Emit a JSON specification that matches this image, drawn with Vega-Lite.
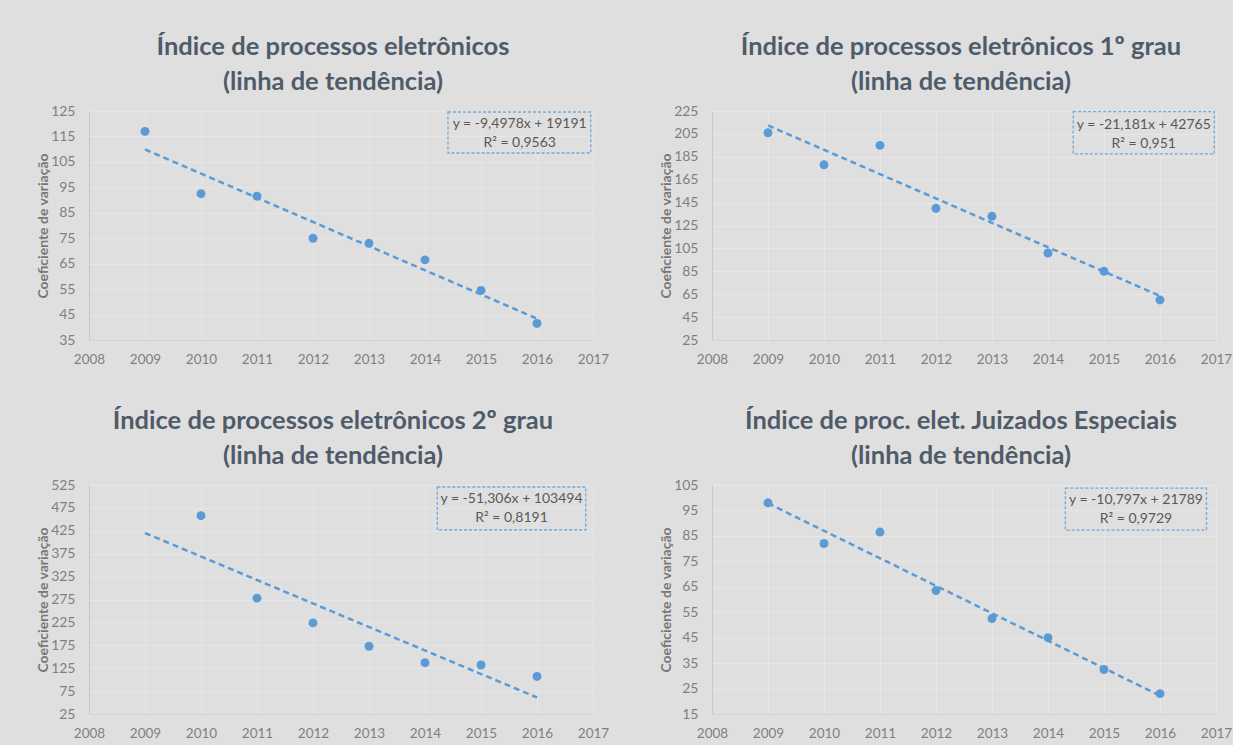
{
  "$schema": "https://vega.github.io/schema/vega-lite/v6.json",
  "background": "#dfdfdf",
  "padding": {"left": 36, "top": 34, "right": 5, "bottom": 5},
  "config": {
    "view": {"stroke": null},
    "font": "Lato",
    "title": {"font": "Lato", "fontSize": 25.5, "fontWeight": "bold", "color": "#4f5b69", "lineHeight": 35, "anchor": "middle", "frame": "group", "offset": 9},
    "axis": {"labelFont": "Lato", "labelFontSize": 14, "labelColor": "#7f7f7f", "ticks": false, "labelOverlap": false, "labelFlush": false, "tickCount": 30, "domainColor": "#c8c8c8", "gridColor": "#e7e7e7", "grid": true, "titleFont": "Lato", "titleFontSize": 14, "titleFontWeight": "bold", "titleColor": "#777777"},
    "axisY": {"labelPadding": 14, "titlePadding": 0},
    "axisX": {"domainColor": "#d4d4d4", "labelPadding": 12, "labelFontSize": 13.5},
    "concat": {"spacing": {"row": 42, "column": 50}}
  },
  "datasets": {
    "p1": [{"year": 2009, "value": 117}, {"year": 2010, "value": 92.5}, {"year": 2011, "value": 91.5}, {"year": 2012, "value": 75}, {"year": 2013, "value": 73}, {"year": 2014, "value": 66.5}, {"year": 2015, "value": 54.5}, {"year": 2016, "value": 41.5}],
    "t1": [{"year": 2009, "value": 109.9}, {"year": 2016, "value": 43.4}],
    "e1": [{"eq": "y = -9,4978x + 19191\nR² = 0,9563"}],
    "p2": [{"year": 2009, "value": 206}, {"year": 2010, "value": 178}, {"year": 2011, "value": 195}, {"year": 2012, "value": 140}, {"year": 2013, "value": 133}, {"year": 2014, "value": 101}, {"year": 2015, "value": 85}, {"year": 2016, "value": 60}],
    "t2": [{"year": 2009, "value": 212.4}, {"year": 2016, "value": 63.5}],
    "e2": [{"eq": "y = -21,181x + 42765\nR² = 0,951"}],
    "p3": [{"year": 2010, "value": 458}, {"year": 2011, "value": 278}, {"year": 2012, "value": 224}, {"year": 2013, "value": 173}, {"year": 2014, "value": 137}, {"year": 2015, "value": 132}, {"year": 2016, "value": 107}],
    "t3": [{"year": 2009, "value": 420.2}, {"year": 2016, "value": 61.1}],
    "e3": [{"eq": "y = -51,306x + 103494\nR² = 0,8191"}],
    "p4": [{"year": 2009, "value": 98}, {"year": 2010, "value": 82}, {"year": 2011, "value": 86.5}, {"year": 2012, "value": 63.5}, {"year": 2013, "value": 52.5}, {"year": 2014, "value": 45}, {"year": 2015, "value": 32.5}, {"year": 2016, "value": 23}],
    "t4": [{"year": 2009, "value": 97.8}, {"year": 2016, "value": 22.2}],
    "e4": [{"eq": "y = -10,797x + 21789\nR² = 0,9729"}]
  },
  "columns": 2,
  "concat": [
    {
      "width": 504, "height": 229,
      "title": {"text": ["Índice de processos eletrônicos", "(linha de tendência)"], "dx": -8},
      "layer": [
        {"data": {"name": "t1"}, "mark": {"type": "line", "strokeDash": [6, 4], "strokeWidth": 2.5, "color": "#5b9bd5"},
         "encoding": {
           "x": {"field": "year", "type": "quantitative", "scale": {"domain": [2008, 2017], "nice": false, "zero": false}, "axis": {"values": [2008, 2009, 2010, 2011, 2012, 2013, 2014, 2015, 2016, 2017], "format": "d", "title": null}},
           "y": {"field": "value", "type": "quantitative", "scale": {"domain": [35, 125], "nice": false, "zero": false}, "axis": {"values": [35, 45, 55, 65, 75, 85, 95, 105, 115, 125], "title": "Coeficiente de variação"}}
         }},
        {"data": {"name": "p1"}, "mark": {"type": "circle", "size": 80, "opacity": 1, "color": "#5b9bd5"},
         "encoding": {"x": {"field": "year", "type": "quantitative"}, "y": {"field": "value", "type": "quantitative"}}},
        {"data": {"name": "e1"}, "mark": {"type": "rect", "filled": false, "stroke": "#6fa8dc", "strokeDash": [3, 2], "strokeWidth": 1.3},
         "encoding": {"x": {"datum": 2014.41}, "x2": {"datum": 2016.96}, "y": {"datum": 124.6}, "y2": {"datum": 108.5}}},
        {"data": {"name": "e1"}, "mark": {"type": "text", "font": "Lato", "fontSize": 14, "color": "#595959", "lineBreak": "\n", "lineHeight": 19, "align": "center", "baseline": "middle"},
         "encoding": {"x": {"datum": 2015.69}, "y": {"datum": 120}, "text": {"field": "eq"}}}
      ]
    },
    {
      "width": 504, "height": 229,
      "title": {"text": ["Índice de processos eletrônicos 1º grau", "(linha de tendência)"], "dx": -3},
      "layer": [
        {"data": {"name": "t2"}, "mark": {"type": "line", "strokeDash": [6, 4], "strokeWidth": 2.5, "color": "#5b9bd5"},
         "encoding": {
           "x": {"field": "year", "type": "quantitative", "scale": {"domain": [2008, 2017], "nice": false, "zero": false}, "axis": {"values": [2008, 2009, 2010, 2011, 2012, 2013, 2014, 2015, 2016, 2017], "format": "d", "title": null}},
           "y": {"field": "value", "type": "quantitative", "scale": {"domain": [25, 225], "nice": false, "zero": false}, "axis": {"values": [25, 45, 65, 85, 105, 125, 145, 165, 185, 205, 225], "title": "Coeficiente de variação"}}
         }},
        {"data": {"name": "p2"}, "mark": {"type": "circle", "size": 80, "opacity": 1, "color": "#5b9bd5"},
         "encoding": {"x": {"field": "year", "type": "quantitative"}, "y": {"field": "value", "type": "quantitative"}}},
        {"data": {"name": "e2"}, "mark": {"type": "rect", "filled": false, "stroke": "#6fa8dc", "strokeDash": [3, 2], "strokeWidth": 1.3},
         "encoding": {"x": {"datum": 2014.45}, "x2": {"datum": 2016.97}, "y": {"datum": 224.5}, "y2": {"datum": 187.5}}},
        {"data": {"name": "e2"}, "mark": {"type": "text", "font": "Lato", "fontSize": 14, "color": "#595959", "lineBreak": "\n", "lineHeight": 19, "align": "center", "baseline": "middle"},
         "encoding": {"x": {"datum": 2015.71}, "y": {"datum": 213}, "text": {"field": "eq"}}}
      ]
    },
    {
      "width": 504, "height": 229,
      "title": {"text": ["Índice de processos eletrônicos 2º grau", "(linha de tendência)"], "dx": -8},
      "layer": [
        {"data": {"name": "t3"}, "mark": {"type": "line", "strokeDash": [6, 4], "strokeWidth": 2.5, "color": "#5b9bd5"},
         "encoding": {
           "x": {"field": "year", "type": "quantitative", "scale": {"domain": [2008, 2017], "nice": false, "zero": false}, "axis": {"values": [2008, 2009, 2010, 2011, 2012, 2013, 2014, 2015, 2016, 2017], "format": "d", "title": null}},
           "y": {"field": "value", "type": "quantitative", "scale": {"domain": [25, 525], "nice": false, "zero": false}, "axis": {"values": [25, 75, 125, 175, 225, 275, 325, 375, 425, 475, 525], "title": "Coeficiente de variação"}}
         }},
        {"data": {"name": "p3"}, "mark": {"type": "circle", "size": 80, "opacity": 1, "color": "#5b9bd5"},
         "encoding": {"x": {"field": "year", "type": "quantitative"}, "y": {"field": "value", "type": "quantitative"}}},
        {"data": {"name": "e3"}, "mark": {"type": "rect", "filled": false, "stroke": "#6fa8dc", "strokeDash": [3, 2], "strokeWidth": 1.3},
         "encoding": {"x": {"datum": 2014.22}, "x2": {"datum": 2016.87}, "y": {"datum": 520.6}, "y2": {"datum": 426.7}}},
        {"data": {"name": "e3"}, "mark": {"type": "text", "font": "Lato", "fontSize": 14, "color": "#595959", "lineBreak": "\n", "lineHeight": 19, "align": "center", "baseline": "middle"},
         "encoding": {"x": {"datum": 2015.545}, "y": {"datum": 494.5}, "text": {"field": "eq"}}}
      ]
    },
    {
      "width": 504, "height": 229,
      "title": {"text": ["Índice de proc. elet. Juizados Especiais", "(linha de tendência)"], "dx": -3},
      "layer": [
        {"data": {"name": "t4"}, "mark": {"type": "line", "strokeDash": [6, 4], "strokeWidth": 2.5, "color": "#5b9bd5"},
         "encoding": {
           "x": {"field": "year", "type": "quantitative", "scale": {"domain": [2008, 2017], "nice": false, "zero": false}, "axis": {"values": [2008, 2009, 2010, 2011, 2012, 2013, 2014, 2015, 2016, 2017], "format": "d", "title": null}},
           "y": {"field": "value", "type": "quantitative", "scale": {"domain": [15, 105], "nice": false, "zero": false}, "axis": {"values": [15, 25, 35, 45, 55, 65, 75, 85, 95, 105], "title": "Coeficiente de variação"}}
         }},
        {"data": {"name": "p4"}, "mark": {"type": "circle", "size": 80, "opacity": 1, "color": "#5b9bd5"},
         "encoding": {"x": {"field": "year", "type": "quantitative"}, "y": {"field": "value", "type": "quantitative"}}},
        {"data": {"name": "e4"}, "mark": {"type": "rect", "filled": false, "stroke": "#6fa8dc", "strokeDash": [3, 2], "strokeWidth": 1.3},
         "encoding": {"x": {"datum": 2014.31}, "x2": {"datum": 2016.83}, "y": {"datum": 103.8}, "y2": {"datum": 87.3}}},
        {"data": {"name": "e4"}, "mark": {"type": "text", "font": "Lato", "fontSize": 14, "color": "#595959", "lineBreak": "\n", "lineHeight": 19, "align": "center", "baseline": "middle"},
         "encoding": {"x": {"datum": 2015.57}, "y": {"datum": 99.2}, "text": {"field": "eq"}}}
      ]
    }
  ]
}
